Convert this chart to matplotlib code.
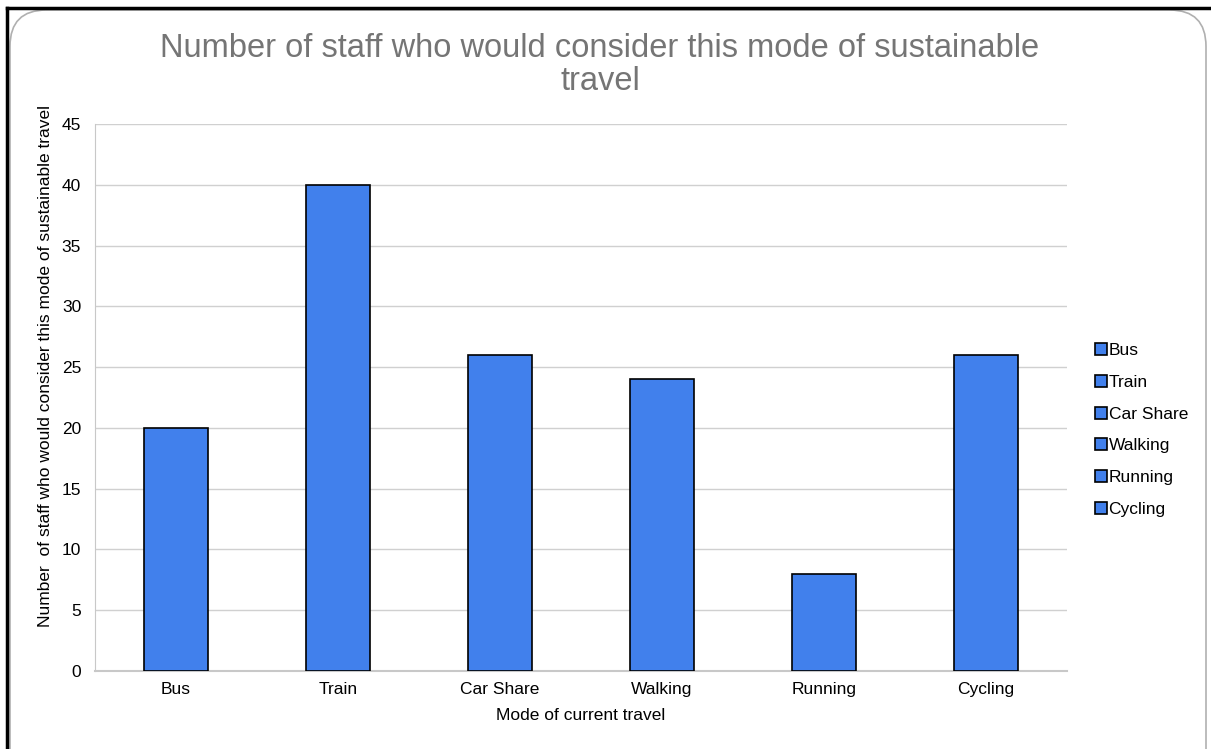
import matplotlib.pyplot as plt
from matplotlib.patches import FancyBboxPatch
from matplotlib.lines import Line2D

plt.rcParams['font.family'] = ['Liberation Sans', 'DejaVu Sans']

# data
modes = ['Bus', 'Train', 'Car Share', 'Walking', 'Running', 'Cycling']
counts = [20, 40, 26, 24, 8, 26]
yticks = [0, 5, 10, 15, 20, 25, 30, 35, 40, 45]

bar_color = '#4180ec'
grid_color = '#d0d0d0'

W, H = 1211, 749
fig = plt.figure(figsize=(12.11, 7.49), dpi=100)
ax = fig.add_axes([95 / W, 1 - 671 / H, 972 / W, 547 / H])

# rounded frame and screenshot border
frame = FancyBboxPatch((10 / W, -0.05), 1196 / W, 1.05 - 10 / H,
                       boxstyle='round,pad=0,rounding_size=0.03',
                       transform=fig.transFigure, facecolor='white',
                       edgecolor='#b0b0b0', linewidth=1.2, mutation_aspect=W / H,
                       zorder=-10)
fig.patches.append(frame)
fig.add_artist(Line2D([7 / W, 7 / W], [0, 1 - 8 / H], transform=fig.transFigure,
                      color='black', linewidth=2.5))
fig.add_artist(Line2D([7 / W, 1], [1 - 8 / H, 1 - 8 / H], transform=fig.transFigure,
                      color='black', linewidth=2.5))

x = range(len(modes))
ax.bar(x, counts, width=0.4, color=bar_color, edgecolor='black', linewidth=1.2, zorder=3)

ax.set_xlim(-0.5, len(modes) - 0.5)
ax.set_ylim(0, 45)
ax.set_yticks(yticks)
ax.set_xticks(list(x))
ax.set_xticklabels(modes)
ax.tick_params(axis='both', length=0, labelsize=12.5, colors='black')
ax.tick_params(axis='x', pad=8)
ax.tick_params(axis='y', pad=10)
ax.yaxis.grid(True, color=grid_color, linewidth=1, zorder=0)
ax.set_axisbelow(True)
for s in ['top', 'right']:
    ax.spines[s].set_visible(False)
ax.spines['left'].set_color('#c8c8c8')
ax.spines['bottom'].set_color('#c8c8c8')
ax.spines['bottom'].set_linewidth(1.5)

ax.set_xlabel('Mode of current travel', fontsize=12.5, labelpad=8)
ax.set_ylabel('Number  of staff who would consider this mode of sustainable travel',
              fontsize=12.5, labelpad=6)
ax.yaxis.set_label_coords(-0.043, (671 - 366) / 547)

fig.text(600 / W, 1 - 65 / H,
         'Number of staff who would consider this mode of sustainable\ntravel',
         ha='center', va='center', fontsize=23.5, color='#757575', linespacing=1.1)

# legend: one entry per category, all same colour
handles = [Line2D([], [], marker='s', linestyle='none', markersize=8,
                  markerfacecolor=bar_color, markeredgecolor='black',
                  markeredgewidth=1.2) for _ in modes]
leg = fig.legend(handles, modes, loc='center left', bbox_to_anchor=(1086 / W, 1 - 430 / H),
                 frameon=False, fontsize=12.5, handlelength=0.7, handletextpad=0.1,
                 labelspacing=0.95, borderpad=0)

fig.savefig('out.png', dpi=100)
